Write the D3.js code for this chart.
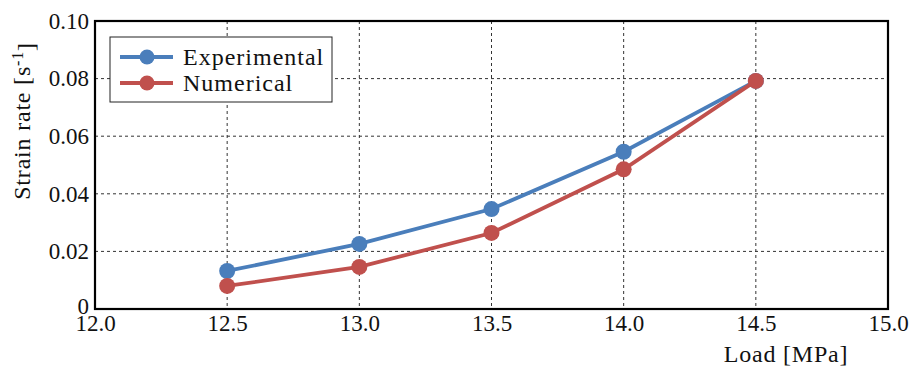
<!DOCTYPE html>
<html>
<head>
<meta charset="utf-8">
<script src="https://cdn.jsdelivr.net/npm/d3@7"></script>
<style>
  body { margin: 0; background: #fff; }
</style>
</head>
<body>
<div id="chart"></div>
<script>
// Strain rate vs load
const loads = [12.5, 13.0, 13.5, 14.0, 14.5];
const experimental = [0.0132, 0.0226, 0.0347, 0.0546, 0.0792];
const numerical = [0.0080, 0.0146, 0.0264, 0.0485, 0.0792];
const xTicks = [12.0, 12.5, 13.0, 13.5, 14.0, 14.5, 15.0];
const yTicks = [0, 0.02, 0.04, 0.06, 0.08, 0.10];

const series = [
  { name: "Experimental", values: experimental, color: "#4a7ebb" },
  { name: "Numerical", values: numerical, color: "#c0504d" }
];

const FONT = '"Liberation Serif", "Times New Roman", serif';

const W = 910, H = 371;
const margin = { top: 21, right: 22, bottom: 62, left: 95 };
const width = W - margin.left - margin.right,
      height = H - margin.top - margin.bottom;

const svg = d3.select("#chart")
  .append("svg")
  .attr("width", W)
  .attr("height", H)
  .append("g")
  .attr("transform", `translate(${margin.left},${margin.top})`);

const xScale = d3.scaleLinear().domain([12, 15]).range([0, width]);
const yScale = d3.scaleLinear().domain([0, 0.1]).range([height, 0]);

// grid
svg.append("g")
  .selectAll("line")
  .data(xTicks)
  .enter()
  .append("line")
  .attr("x1", d => xScale(d)).attr("x2", d => xScale(d))
  .attr("y1", 0).attr("y2", height)
  .attr("stroke", "#333").attr("stroke-width", 1)
  .attr("stroke-dasharray", "3,3");

svg.append("g")
  .selectAll("line")
  .data(yTicks)
  .enter()
  .append("line")
  .attr("y1", d => yScale(d)).attr("y2", d => yScale(d))
  .attr("x1", 0).attr("x2", width)
  .attr("stroke", "#333").attr("stroke-width", 1)
  .attr("stroke-dasharray", "3,3");

// axes
const xAxis = svg.append("g")
  .attr("transform", `translate(0,${height})`)
  .call(d3.axisBottom(xScale).tickValues(xTicks).tickFormat(d3.format(".1f")).tickSize(0).tickPadding(6));
xAxis.select(".domain").remove();
xAxis.selectAll("text")
  .style("font-family", FONT).style("font-size", "23px").attr("fill", "#111");

const yAxis = svg.append("g")
  .call(d3.axisLeft(yScale).tickValues(yTicks).tickFormat(d => d === 0 ? "0" : d3.format(".2f")(d)).tickSize(0).tickPadding(6));
yAxis.select(".domain").remove();
yAxis.selectAll("text")
  .style("font-family", FONT).style("font-size", "23px").attr("fill", "#111");
// the zero label sits a little higher, clear of "12.0"
yAxis.selectAll("text").filter(d => d === 0).attr("dy", "0.18em");

// frame
svg.append("rect")
  .attr("x", 0).attr("y", 0)
  .attr("width", width).attr("height", height)
  .attr("fill", "none")
  .attr("stroke", "#000")
  .attr("stroke-width", 2.2);

// lines + markers
const line = d3.line()
  .x((d, i) => xScale(loads[i]))
  .y(d => yScale(d));

series.forEach(s => {
  svg.append("path")
    .datum(s.values)
    .attr("fill", "none")
    .attr("stroke", s.color)
    .attr("stroke-width", 3.8)
    .attr("d", line);

  svg.append("g")
    .selectAll("circle")
    .data(s.values)
    .enter()
    .append("circle")
    .attr("cx", (d, i) => xScale(loads[i]))
    .attr("cy", d => yScale(d))
    .attr("r", 8)
    .attr("fill", s.color);
});

// legend
const legend = svg.append("g").attr("transform", "translate(15,16)");
legend.append("rect")
  .attr("width", 222).attr("height", 65)
  .attr("fill", "#fff")
  .attr("stroke", "#222").attr("stroke-width", 1);

series.forEach((s, i) => {
  const gy = 20 + i * 26;
  legend.append("line")
    .attr("x1", 10).attr("x2", 63)
    .attr("y1", gy).attr("y2", gy)
    .attr("stroke", s.color).attr("stroke-width", 3.8);
  legend.append("circle")
    .attr("cx", 37).attr("cy", gy).attr("r", 7.5)
    .attr("fill", s.color);
  legend.append("text")
    .attr("x", 73).attr("y", gy)
    .attr("dy", "0.33em")
    .style("font-family", FONT)
    .style("font-size", "24px")
    .style("letter-spacing", "1px")
    .attr("fill", "#111")
    .text(s.name);
});

// axis titles
svg.append("text")
  .attr("x", 691).attr("y", height + 53)
  .attr("text-anchor", "middle")
  .style("font-family", FONT)
  .style("font-size", "24px")
  .style("letter-spacing", "0.8px")
  .attr("fill", "#111")
  .text("Load [MPa]");

const yl = svg.append("text")
  .attr("transform", `translate(${-65},${100}) rotate(-90)`)
  .attr("text-anchor", "middle")
  .style("font-family", FONT)
  .style("font-size", "24px")
  .style("letter-spacing", "0.8px")
  .attr("fill", "#111");
yl.append("tspan").text("Strain rate [s");
yl.append("tspan").attr("dy", "-0.45em").style("font-size", "16px").text("-1");
yl.append("tspan").attr("dy", "0.45em").text("]");
</script>
</body>
</html>
